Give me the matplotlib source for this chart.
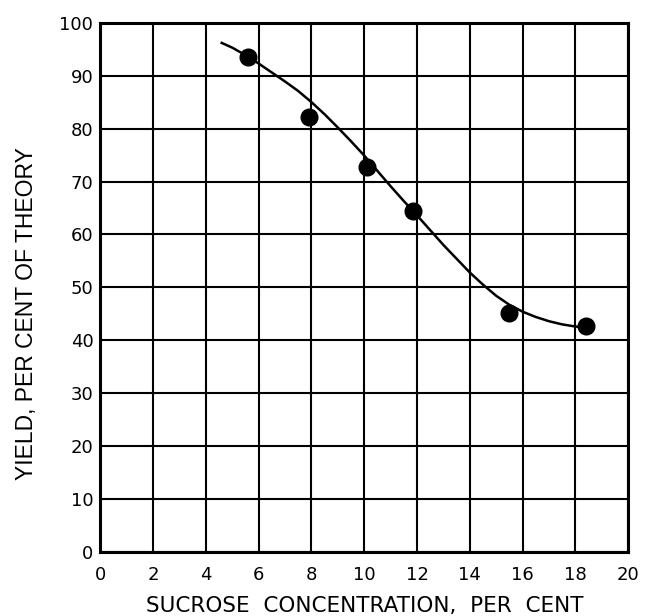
import matplotlib
matplotlib.use("Agg")
import matplotlib.pyplot as plt
import matplotlib.ticker as ticker

# measured points (sucrose %, yield %)
sucrose = [5.6, 7.9, 10.1, 11.85, 15.5, 18.4]
yield_pct = [93.6, 82.2, 72.8, 64.4, 45.2, 42.7]

# hand-drawn curve
curve_x = [4.6, 5.0, 5.6, 6.0, 6.5, 7.0, 7.5, 8.0, 8.5, 9.0, 9.5, 10.0,
           10.5, 11.0, 11.5, 12.0, 12.5, 13.0, 13.5, 14.0, 14.5, 15.0,
           15.5, 16.0, 16.5, 17.0, 17.5, 18.0, 18.4]
curve_y = [96.2, 95.3, 93.6, 92.3, 90.6, 88.9, 87.1, 85.0, 82.7, 80.2, 77.6, 74.9,
           72.0, 69.1, 66.3, 63.6, 60.8, 58.0, 55.4, 52.8, 50.5, 48.4,
           46.7, 45.4, 44.4, 43.6, 43.0, 42.6, 42.4]

x_ticks = list(range(0, 21, 2))
y_ticks = list(range(0, 101, 10))


def plot_yield():
    """Yield versus sucrose concentration"""
    fig = plt.figure(figsize=(6.47, 6.16), dpi=100)
    ax = fig.add_axes([0.155, 0.104, 0.816, 0.859])

    ax.set_xlim(0, 20)
    ax.set_ylim(0, 100)
    ax.xaxis.set_major_locator(ticker.FixedLocator(x_ticks))
    ax.yaxis.set_major_locator(ticker.FixedLocator(y_ticks))
    ax.grid(True, color='black', linewidth=1.5)
    ax.set_axisbelow(True)
    for side in ax.spines.values():
        side.set_linewidth(2.2)

    ax.tick_params(length=0, labelsize=13)
    ax.tick_params(axis='x', pad=10)
    ax.tick_params(axis='y', pad=5)
    for lab in ax.get_xticklabels() + ax.get_yticklabels():
        lab.set_family('DejaVu Sans')

    ax.plot(curve_x, curve_y, color='black', linewidth=1.8, zorder=3)
    ax.plot(sucrose, yield_pct, 'o', color='black', markersize=12, zorder=4)

    ax.set_xlabel('SUCROSE  CONCENTRATION,  PER  CENT', fontsize=15.5,
                  family='DejaVu Sans', labelpad=9)
    ax.set_ylabel('YIELD, PER CENT OF THEORY', fontsize=16.5,
                  family='Liberation Sans')
    ax.yaxis.set_label_coords(-0.118, 0.45)

    fig.savefig('out.png', dpi=100)


def main():
    plot_yield()


if __name__ == "__main__":
    main()
